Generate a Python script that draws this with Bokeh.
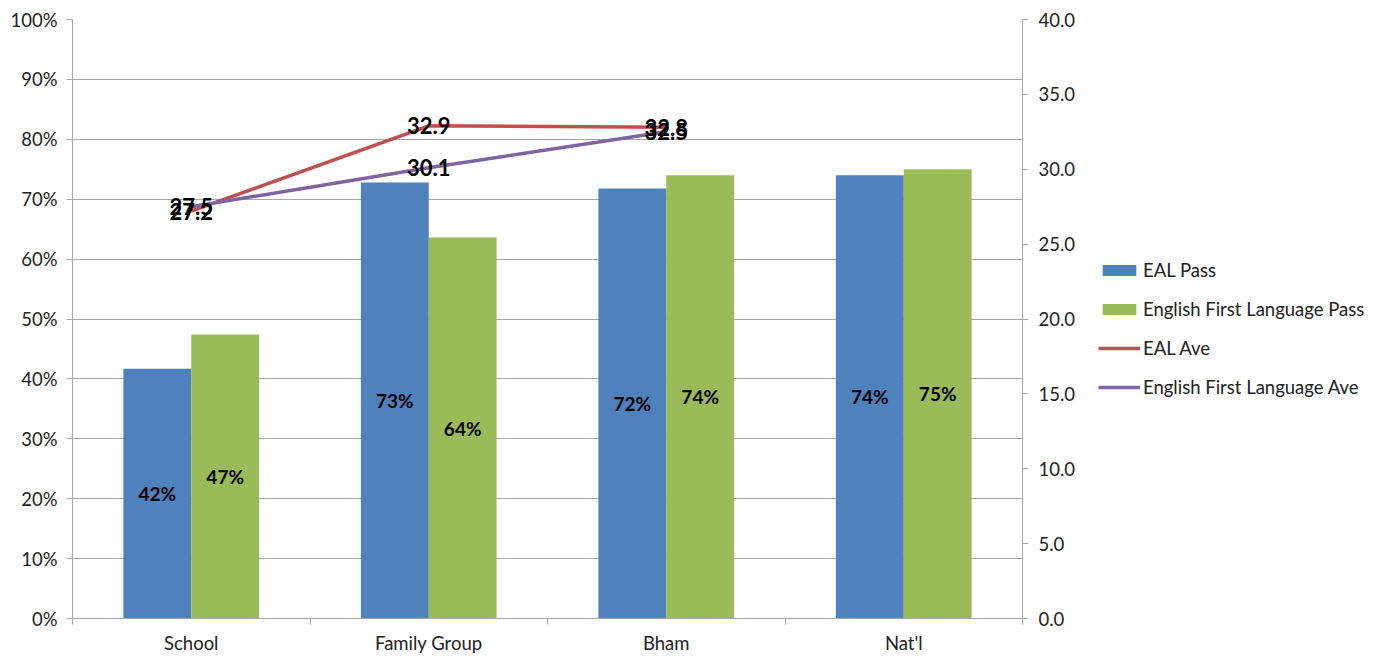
from bokeh.plotting import figure
from bokeh.layouts import row
from bokeh.models import (Range1d, LinearAxis, FixedTicker, NumeralTickFormatter,
                          ColumnDataSource, Legend, LegendItem, LabelSet)
from bokeh.core.properties import value
from bokeh.embed import file_html
from bokeh.resources import INLINE

# ---- data ----
categories = ["School", "Family Group", "Bham", "Nat'l"]
eal_pass = [0.417, 0.728, 0.718, 0.740]
efl_pass = [0.474, 0.636, 0.740, 0.750]
ave_categories = ["School", "Family Group", "Bham"]
eal_ave = [27.2, 32.9, 32.8]
efl_ave = [27.5, 30.1, 32.5]
left_ticks = [0.0, 0.1, 0.2, 0.3, 0.4, 0.5, 0.6, 0.7, 0.8, 0.9, 1.0]
right_ticks = [0, 5, 10, 15, 20, 25, 30, 35, 40]
series_names = ["EAL Pass", "English First Language Pass", "EAL Ave", "English First Language Ave"]

FONT = "Lato"
BLUE, GREEN, RED, PURPLE = "#4F81BD", "#9BBB59", "#C0504D", "#8064A2"
GRID = "#a6a6a6"

n = len(categories)
centers = [i + 0.5 for i in range(n)]
bw = 1 / 3.5
bar_src = ColumnDataSource(dict(
    x_eal=[c - bw / 2 for c in centers],
    x_efl=[c + bw / 2 for c in centers],
    eal=eal_pass, efl=efl_pass,
    eal_mid=[v / 2 for v in eal_pass], efl_mid=[v / 2 for v in efl_pass],
    eal_lab=[f"{round(v * 100):.0f}%" for v in eal_pass],
    efl_lab=[f"{round(v * 100):.0f}%" for v in efl_pass],
))
ave_x = [categories.index(c) + 0.5 for c in ave_categories]
line_src = ColumnDataSource(dict(
    x=ave_x, eal=eal_ave, efl=efl_ave,
    eal_lab=[f"{v:.1f}" for v in eal_ave],
    efl_lab=[f"{v:.1f}" for v in efl_ave],
))

p = figure(width=1088, height=656, x_range=Range1d(0, n), y_range=Range1d(0, 1),
           output_backend="svg", toolbar_location=None,
           min_border_left=72, min_border_right=66, min_border_top=19, min_border_bottom=38)
p.outline_line_color = None
p.extra_y_ranges = {"ave": Range1d(0, 40)}

# axes
p.xaxis.ticker = FixedTicker(ticks=centers, minor_ticks=list(range(n + 1)))
p.xaxis.major_label_overrides = {c: lab for c, lab in zip(centers, categories)}
p.xaxis.major_tick_line_color = None
p.xaxis.minor_tick_out = 6
p.xaxis.minor_tick_in = 0
p.xaxis.minor_tick_line_color = GRID
p.xaxis.axis_line_color = GRID
p.xaxis.major_label_standoff = 7
p.xgrid.visible = False

p.yaxis.ticker = FixedTicker(ticks=left_ticks)
p.yaxis.formatter = NumeralTickFormatter(format="0%")
p.yaxis.major_tick_out = 6
p.yaxis.major_tick_in = 0
p.yaxis.minor_tick_line_color = None
p.yaxis.axis_line_color = GRID
p.yaxis.major_tick_line_color = GRID
p.yaxis.major_label_standoff = 9
p.ygrid.ticker = FixedTicker(ticks=left_ticks)
p.ygrid.grid_line_color = GRID

raxis = LinearAxis(y_range_name="ave", ticker=FixedTicker(ticks=right_ticks),
                   formatter=NumeralTickFormatter(format="0.0"))
raxis.major_tick_out = 6
raxis.major_tick_in = 0
raxis.minor_tick_line_color = None
raxis.axis_line_color = GRID
raxis.major_tick_line_color = GRID
raxis.major_label_standoff = 10
p.add_layout(raxis, "right")

for ax in [p.xaxis[0], p.yaxis[0], raxis]:
    ax.major_label_text_font = FONT
    ax.major_label_text_font_size = "18.5px"
    ax.major_label_text_color = "#222222"

# bars
p.vbar(x="x_eal", top="eal", width=bw, source=bar_src, fill_color=BLUE, line_color=None)
p.vbar(x="x_efl", top="efl", width=bw, source=bar_src, fill_color=GREEN, line_color=None)

for xcol, ycol, lcol in [("x_eal", "eal_mid", "eal_lab"), ("x_efl", "efl_mid", "efl_lab")]:
    p.add_layout(LabelSet(x=xcol, y=ycol, text=lcol, source=bar_src, text_align="center",
                          text_baseline="middle", text_font=value(FONT), text_font_size="19px",
                          text_font_style="bold", text_color="black"))

# lines
p.line("x", "eal", source=line_src, y_range_name="ave", line_color=RED, line_width=3.5)
p.line("x", "efl", source=line_src, y_range_name="ave", line_color=PURPLE, line_width=3.5)
for col, lcol in [("eal", "eal_lab"), ("efl", "efl_lab")]:
    p.add_layout(LabelSet(x="x", y=col, text=lcol, source=line_src, y_range_name="ave",
                          text_align="center", text_baseline="middle", text_font=value(FONT),
                          text_font_size="22px", text_font_style="bold", text_color="black"))

# ---- legend panel (separate figure; hidden copies of the series supply legend glyphs) ----
lg = figure(width=286, height=656, x_range=Range1d(0, 1), y_range=Range1d(0, 1),
            output_backend="svg", toolbar_location=None, min_border=0,
            x_axis_location=None, y_axis_location=None)
lg.outline_line_color = None
lg.xgrid.visible = False
lg.ygrid.visible = False
lr1 = lg.vbar(x="x_eal", top="eal", width=bw, source=bar_src, fill_color=BLUE,
              line_color=None, visible=False)
lr2 = lg.vbar(x="x_efl", top="efl", width=bw, source=bar_src, fill_color=GREEN,
              line_color=None, visible=False)
lr3 = lg.line("x", "eal", source=line_src, line_color=RED, line_width=3.5, visible=False)
lr4 = lg.line("x", "efl", source=line_src, line_color=PURPLE, line_width=3.5, visible=False)

legend = Legend(items=[LegendItem(label=s, renderers=[r])
                       for s, r in zip(series_names, [lr1, lr2, lr3, lr4])],
                location=(10, 220))
legend.click_policy = "none"
legend.inactive_fill_alpha = 0
legend.border_line_color = None
legend.background_fill_alpha = 0
legend.label_text_font = FONT
legend.label_text_font_size = "18.5px"
legend.label_text_color = "#222222"
legend.glyph_width = 42
legend.glyph_height = 14
legend.label_height = 20
legend.spacing = 17
legend.label_standoff = 3
legend.padding = 0
legend.margin = 0
lg.add_layout(legend, "center")

layout = row(p, lg, spacing=0)
open("out.html", "w").write(file_html(layout, INLINE))
